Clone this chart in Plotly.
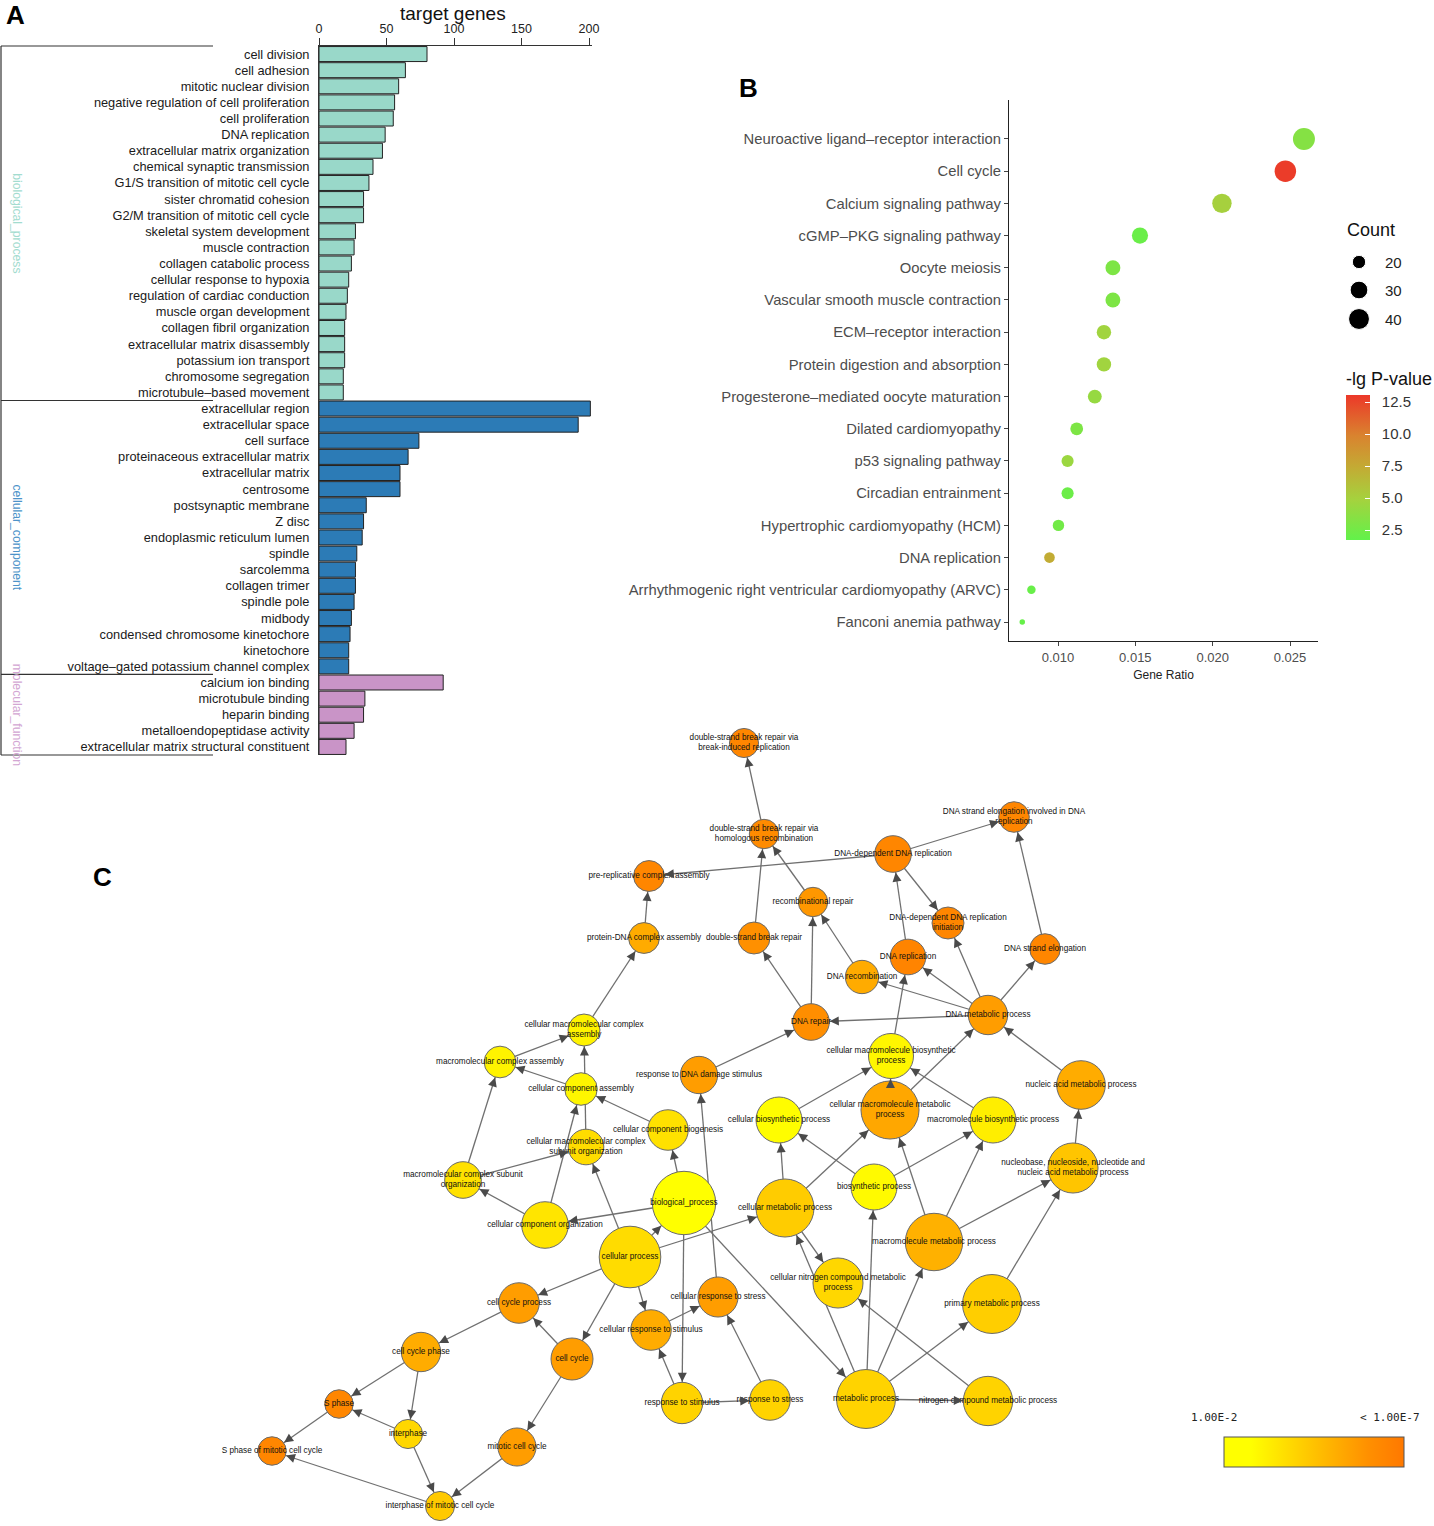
import math
import plotly.graph_objects as go

W, H = 1434, 1526

# ---------------- Panel A data ----------------
bp_terms = ["cell division", "cell adhesion", "mitotic nuclear division",
            "negative regulation of cell proliferation", "cell proliferation",
            "DNA replication", "extracellular matrix organization",
            "chemical synaptic transmission", "G1/S transition of mitotic cell cycle",
            "sister chromatid cohesion", "G2/M transition of mitotic cell cycle",
            "skeletal system development", "muscle contraction",
            "collagen catabolic process", "cellular response to hypoxia",
            "regulation of cardiac conduction", "muscle organ development",
            "collagen fibril organization", "extracellular matrix disassembly",
            "potassium ion transport", "chromosome segregation",
            "microtubule\u2013based movement"]
bp_counts = [80, 64, 59, 56, 55, 49, 47, 40, 37, 33, 33, 27, 26, 24, 22, 21, 20, 19, 19, 19, 18, 18]

cc_terms = ["extracellular region", "extracellular space", "cell surface",
            "proteinaceous extracellular matrix", "extracellular matrix", "centrosome",
            "postsynaptic membrane", "Z disc", "endoplasmic reticulum lumen", "spindle",
            "sarcolemma", "collagen trimer", "spindle pole", "midbody",
            "condensed chromosome kinetochore", "kinetochore",
            "voltage\u2013gated potassium channel complex"]
cc_counts = [201, 192, 74, 66, 60, 60, 35, 33, 32, 28, 27, 27, 26, 24, 23, 22, 22]

mf_terms = ["calcium ion binding", "microtubule binding", "heparin binding",
            "metalloendopeptidase activity", "extracellular matrix structural constituent"]
mf_counts = [92, 34, 33, 26, 20]

go_groups = ["biological_process", "cellular_component", "molecular_function"]
A_ticks = [0, 50, 100, 150, 200]

# ---------------- Panel B data ----------------
kegg_terms = ["Neuroactive ligand\u2013receptor interaction", "Cell cycle",
              "Calcium signaling pathway", "cGMP\u2013PKG signaling pathway", "Oocyte meiosis",
              "Vascular smooth muscle contraction", "ECM\u2013receptor interaction",
              "Protein digestion and absorption", "Progesterone\u2013mediated oocyte maturation",
              "Dilated cardiomyopathy", "p53 signaling pathway", "Circadian entrainment",
              "Hypertrophic cardiomyopathy (HCM)", "DNA replication",
              "Arrhythmogenic right ventricular cardiomyopathy (ARVC)", "Fanconi anemia pathway"]
kegg_ratio = [0.0259, 0.0247, 0.0206, 0.0153, 0.01355, 0.01355, 0.01297, 0.01297,
              0.01238, 0.01121, 0.01062, 0.01062, 0.01003, 0.00945, 0.00828, 0.00769]
kegg_count = [44, 42, 35, 26, 23, 23, 22, 22, 21, 19, 18, 18, 17, 16, 14, 13]
kegg_lgp = [3.4, 12.9, 5.0, 2.1, 3.0, 3.0, 4.7, 4.7, 4.2, 3.0, 4.4, 2.2, 2.5, 7.3, 2.0, 1.9]
B_xticks = [0.010, 0.015, 0.020, 0.025]
count_legend = [20, 30, 40]
lgp_ticks = [2.5, 5.0, 7.5, 10.0, 12.5]

# ---------------- Panel C data (BiNGO network) ----------------
node_names = [
    "double-strand break repair via<br>break-induced replication",
    "double-strand break repair via<br>homologous recombination",
    "DNA strand elongation involved in DNA<br>replication",
    "DNA-dependent DNA replication",
    "pre-replicative complex assembly",
    "recombinational repair",
    "DNA-dependent DNA replication<br>initiation",
    "protein-DNA complex assembly",
    "double-strand break repair",
    "DNA replication",
    "DNA strand elongation",
    "DNA recombination",
    "DNA metabolic process",
    "DNA repair",
    "cellular macromolecular complex<br>assembly",
    "macromolecular complex assembly",
    "response to DNA damage stimulus",
    "cellular macromolecule biosynthetic<br>process",
    "nucleic acid metabolic process",
    "cellular component assembly",
    "cellular macromolecule metabolic<br>process",
    "cellular biosynthetic process",
    "macromolecule biosynthetic process",
    "cellular component biogenesis",
    "cellular macromolecular complex<br>subunit organization",
    "nucleobase, nucleoside, nucleotide and<br>nucleic acid metabolic process",
    "macromolecular complex subunit<br>organization",
    "biosynthetic process",
    "biological_process",
    "cellular metabolic process",
    "cellular component organization",
    "macromolecule metabolic process",
    "cellular process",
    "cellular nitrogen compound metabolic<br>process",
    "cell cycle process",
    "cellular response to stress",
    "primary metabolic process",
    "cellular response to stimulus",
    "cell cycle phase",
    "cell cycle",
    "S phase",
    "response to stimulus",
    "response to stress",
    "metabolic process",
    "nitrogen compound metabolic process",
    "interphase",
    "mitotic cell cycle",
    "S phase of mitotic cell cycle",
    "interphase of mitotic cell cycle",
]
# network layout coordinates (layout units)
node_x = [744, 764, 1014, 893, 649, 813, 948, 644, 754, 908, 1045, 862, 988, 811, 584, 500,
          699, 891, 1081, 581, 890, 779, 993, 668, 586, 1073, 463, 874, 684, 785, 545, 934,
          630, 838, 519, 718, 992, 651, 421, 572, 339, 682, 770, 866, 988, 408, 517, 272, 440]
node_y = [743, 834, 817, 854, 876, 902, 923, 938, 938, 957, 949, 977, 1015, 1022, 1030, 1062,
          1075, 1056, 1085, 1089, 1110, 1120, 1120, 1130, 1147, 1168, 1180, 1187, 1203, 1208,
          1225, 1242, 1257, 1283, 1303, 1297, 1304, 1330, 1352, 1359, 1404, 1403, 1400, 1399,
          1401, 1434, 1447, 1451, 1506]
node_genes = [48, 49, 53, 76, 54, 49, 58, 54, 58, 72, 53, 63, 88, 76, 58, 57, 79, 115, 134, 60,
              191, 120, 120, 93, 72, 142, 76, 120, 228, 191, 123, 187, 215, 142, 93, 91, 197, 93,
              88, 100, 46, 97, 93, 197, 138, 48, 82, 46, 48]
node_lgp = [6.4, 6.2, 6.4, 6.4, 6.4, 5.8, 6.4, 5.2, 6.0, 6.5, 6.4, 5.2, 5.6, 6.1, 3.1, 3.1,
            5.6, 3.0, 5.15, 3.0, 5.3, 2.8, 3.25, 3.6, 3.75, 4.4, 3.6, 2.9, 2.3, 4.2, 3.5, 5.0,
            3.75, 3.9, 5.6, 5.6, 4.15, 5.15, 5.15, 5.6, 6.4, 4.0, 4.0, 4.0, 4.0, 3.9, 5.6, 6.4, 4.3]
edge_src = [1, 3, 3, 3, 5, 8, 11, 13, 13, 9, 10, 7, 12, 12, 12, 12, 12, 16, 14, 15, 19, 24, 23,
            26, 30, 26, 30, 28, 28, 32, 32, 32, 32, 32, 32, 28, 28, 35, 37, 41, 41, 42, 34, 39,
            39, 38, 38, 45, 40, 45, 46, 48, 29, 29, 29, 43, 43, 43, 43, 43, 44, 27, 27, 31, 31,
            31, 36, 25, 18, 20, 20, 21, 22, 17]
edge_dst = [0, 2, 4, 6, 1, 1, 5, 5, 8, 3, 2, 4, 9, 11, 13, 10, 6, 13, 7, 14, 15, 14, 19,
            15, 26, 24, 19, 30, 23, 28, 24, 29, 34, 39, 37, 41, 43, 16, 35, 37, 42, 35, 38, 34,
            46, 40, 45, 40, 47, 48, 48, 47, 21, 20, 33, 29, 27, 31, 36, 44, 33, 21, 22, 22, 20,
            25, 25, 18, 12, 12, 17, 17, 17, 9]
pval_labels = ["1.00E-2", "< 1.00E-7"]

# ---------------- helpers ----------------
def px(xp):
    return xp / W

def py(yp):
    return 1 - yp / H

FONT = "Liberation Sans, Arial, sans-serif"
fig = go.Figure()

# ---------------- Panel A ----------------
terms_A = bp_terms + cc_terms + mf_terms
counts_A = bp_counts + cc_counts + mf_counts
group_colors = ["#99d8c9", "#2c7bb6", "#c994c7"]
colors_A = ([group_colors[0]] * len(bp_terms) + [group_colors[1]] * len(cc_terms)
            + [group_colors[2]] * len(mf_terms))
nA = len(terms_A)
fig.add_trace(go.Bar(x=counts_A, y=list(range(nA)), orientation="h",
                     marker=dict(color=colors_A, line=dict(color="#222222", width=1)),
                     width=0.93, xaxis="x", yaxis="y", showlegend=False, hoverinfo="x+y"))

row_px = (755 - 46) / nA
A_top, A_bot = 46, 755

# ---------------- Panel B ----------------
cmin_c, cmax_c = min(kegg_count), max(kegg_count)

def dot_size(c):
    return 5.5 + 16.5 * math.sqrt(max(c - cmin_c, 0) / (cmax_c - cmin_c))

nB = len(kegg_terms)
B_scale = [[0, "#62f24a"], [0.28, "#a5d23e"], [0.5, "#c3ab34"], [0.72, "#d9832f"], [1, "#ec3829"]]
fig.add_trace(go.Scatter(
    x=kegg_ratio, y=[nB - 1 - i for i in range(nB)], mode="markers",
    marker=dict(size=[dot_size(c) for c in kegg_count], color=kegg_lgp, colorscale=B_scale,
                cmin=1.72, cmax=13.05, opacity=1, line=dict(width=0),
                colorbar=dict(x=px(1346), xanchor="left", y=py(395), yanchor="top",
                              len=145, lenmode="pixels", thickness=24, thicknessmode="pixels",
                              outlinewidth=0, xpad=0, ypad=0,
                              tickvals=lgp_ticks, ticktext=["  %.1f" % v for v in lgp_ticks],
                              ticks="inside", ticklen=5, tickcolor="white",
                              tickfont=dict(size=15, color="#333333", family=FONT))),
    xaxis="x2", yaxis="y2", showlegend=False))

# ---------------- Panel C ----------------
node_d = [4.2 * math.sqrt(g) for g in node_genes]
ex, ey = [], []
for s, t in zip(edge_src, edge_dst):
    ex += [node_x[s], node_x[t], None]
    ey += [node_y[s], node_y[t], None]
fig.add_trace(go.Scatter(x=ex, y=ey, mode="lines", line=dict(color="#707070", width=1.3),
                         xaxis="x3", yaxis="y3", showlegend=False, hoverinfo="skip"))
C_scale = [[0, "#ffff00"], [0.15, "#ffff00"], [0.5, "#ffc200"], [0.8, "#ff9000"], [1, "#ff7800"]]
fig.add_trace(go.Scatter(
    x=node_x, y=node_y, mode="markers+text", text=node_names, textposition="middle center",
    textfont=dict(size=8.2, color="#111111", family=FONT),
    marker=dict(size=node_d, color=node_lgp, colorscale=C_scale, cmin=2, cmax=7, opacity=1,
                line=dict(color="#6a6a6a", width=1),
                colorbar=dict(orientation="h", x=px(1313.5), xanchor="center", y=py(1437),
                              yanchor="top", len=180, lenmode="pixels", thickness=30,
                              thicknessmode="pixels", outlinewidth=1, outlinecolor="#555555",
                              xpad=0, ypad=0, showticklabels=False, ticks="")),
    xaxis="x3", yaxis="y3", showlegend=False, hoverinfo="text"))

# count legend for panel B (drawn in pixel frame)
leg_y = [262, 290, 319]
fig.add_trace(go.Scatter(x=[1359] * 3, y=leg_y, mode="markers",
                         marker=dict(size=[dot_size(c) for c in count_legend], color="black",
                                     opacity=1),
                         xaxis="x3", yaxis="y3", showlegend=False, hoverinfo="skip"))

annotations = []
shapes = []

# arrowheads for network
for s, t in zip(edge_src, edge_dst):
    dx, dy = node_x[t] - node_x[s], node_y[t] - node_y[s]
    L = math.hypot(dx, dy)
    ux, uy = dx / L, dy / L
    rt = node_d[t] / 2 + 0.5
    hx, hy = node_x[t] - ux * rt, node_y[t] - uy * rt
    annotations.append(dict(x=hx, y=hy, ax=hx - ux * 10, ay=hy - uy * 10, xref="x3", yref="y3",
                            axref="x3", ayref="y3", showarrow=True, arrowhead=2, arrowsize=1.5,
                            arrowwidth=1.2, arrowcolor="#4a4a4a", text=""))

# count legend labels
for c, yy in zip(count_legend, leg_y):
    annotations.append(dict(x=px(1383), y=py(yy), xref="paper", yref="paper", xanchor="left",
                            yanchor="middle", text=str(c), showarrow=False,
                            font=dict(size=15, color="#222222", family=FONT)))
annotations.append(dict(x=px(1345), y=py(230), xref="paper", yref="paper", xanchor="left",
                        yanchor="middle", text="Count", showarrow=False,
                        font=dict(size=18, color="#111111", family=FONT)))
annotations.append(dict(x=px(1344), y=py(379), xref="paper", yref="paper", xanchor="left",
                        yanchor="middle", text="-lg P-value", showarrow=False,
                        font=dict(size=18, color="#111111", family=FONT)))

# C colorbar labels
annotations.append(dict(x=px(1214), y=py(1417), xref="paper", yref="paper", xanchor="center",
                        yanchor="middle", text=pval_labels[0], showarrow=False,
                        font=dict(size=11, color="#222222", family="DejaVu Sans Mono, monospace")))
annotations.append(dict(x=px(1390), y=py(1417), xref="paper", yref="paper", xanchor="center",
                        yanchor="middle", text=pval_labels[1], showarrow=False,
                        font=dict(size=11, color="#222222", family="DejaVu Sans Mono, monospace")))

# panel letters
for letter, (lx, ly) in zip(["A", "B", "C"], [(15, 15), (748, 88), (102, 877)]):
    annotations.append(dict(x=px(lx), y=py(ly), xref="paper", yref="paper", xanchor="center",
                            yanchor="middle", text="<b>%s</b>" % letter, showarrow=False,
                            font=dict(size=26, color="black", family=FONT)))

# A title
annotations.append(dict(x=px(453), y=py(14), xref="paper", yref="paper", xanchor="center",
                        yanchor="middle", text="target genes", showarrow=False,
                        font=dict(size=19, color="#111111", family=FONT)))

# A group brackets and rotated labels
sizes = [len(bp_terms), len(cc_terms), len(mf_terms)]
label_cols = ["#a3dccf", "#4d93c9", "#d3a6d3"]
start = 0
bounds = [A_top]
for g, n in enumerate(sizes):
    mid = A_top + row_px * (start + n / 2)
    annotations.append(dict(x=px(17), y=py(mid), xref="paper", yref="paper", xanchor="center",
                            yanchor="middle", text=go_groups[g], textangle=90, showarrow=False,
                            font=dict(size=12.2, color=label_cols[g], family=FONT)))
    start += n
    bounds.append(A_top + row_px * start)
for b in bounds:
    shapes.append(dict(type="line", xref="paper", yref="paper", x0=px(1), x1=px(213),
                       y0=py(b), y1=py(b), line=dict(color="#333333", width=1.2)))
shapes.append(dict(type="line", xref="paper", yref="paper", x0=px(1), x1=px(1),
                   y0=py(A_top), y1=py(A_bot), line=dict(color="#333333", width=1.2)))

fig.update_layout(
    width=W, height=H, autosize=False,
    margin=dict(l=0, r=0, t=0, b=0, pad=0, autoexpand=False),
    paper_bgcolor="white", plot_bgcolor="rgba(0,0,0,0)",
    font=dict(family=FONT, color="#222222"),
    showlegend=False, annotations=annotations, shapes=shapes,
    xaxis=dict(domain=[px(319), px(319 + 1.35 * 202)], range=[0, 202], side="top", anchor="y",
               showline=True, linecolor="#333333", linewidth=1, ticks="outside", ticklen=7,
               tickcolor="#333333", tickvals=A_ticks, tickfont=dict(size=12.5, color="#222222"),
               showgrid=False, zeroline=False, fixedrange=True),
    yaxis=dict(domain=[py(A_bot), py(A_top)], range=[nA - 0.5, -0.5], anchor="x",
               tickvals=list(range(nA)), ticktext=terms_A, showline=True, linecolor="#333333",
               linewidth=1, ticks="", tickfont=dict(size=12.8, color="#1a1a1a"),
               ticklabelstandoff=6, showgrid=False, zeroline=False, fixedrange=True),
    xaxis2=dict(domain=[px(1009), px(1318)], range=[0.006832, 0.02681], anchor="y2",
                showline=True, linecolor="#222222", linewidth=1.2, ticks="outside", ticklen=4,
                tickcolor="#444444", tickvals=B_xticks, ticktext=["%.3f" % v for v in B_xticks],
                tickfont=dict(size=13, color="#4d4d4d"), showgrid=False, zeroline=False,
                title=dict(text="Gene Ratio", font=dict(size=12, color="#222222"), standoff=6),
                fixedrange=True),
    yaxis2=dict(domain=[py(641), py(100)], range=[-0.59, nB - 1 + 1.21], anchor="x2",
                tickvals=list(range(nB)), ticktext=kegg_terms[::-1], showline=True,
                linecolor="#222222", linewidth=1.2, ticks="outside", ticklen=4,
                tickcolor="#444444", tickfont=dict(size=14.8, color="#4d4d4d"),
                showgrid=False, zeroline=False, fixedrange=True),
    xaxis3=dict(domain=[0, 1], range=[0, W], visible=False, fixedrange=True, anchor="y3"),
    yaxis3=dict(domain=[0, 1], range=[H, 0], visible=False, fixedrange=True, anchor="x3"),
)

fig.write_html(
    "out.html",
    config={"displayModeBar": False},
    post_script="document.body.style.margin='0px';document.body.style.overflow='hidden';"
                "document.documentElement.style.overflow='hidden';",
)
